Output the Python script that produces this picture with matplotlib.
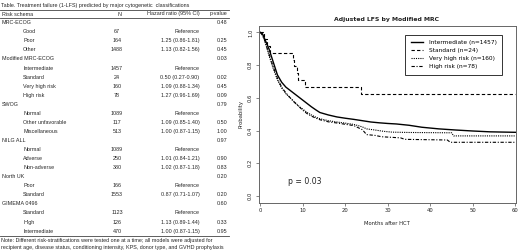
import matplotlib
matplotlib.use("Agg")
import matplotlib.pyplot as plt
from matplotlib.lines import Line2D

# ---------------- table data ----------------
table_title = "Table. Treatment failure (1-LFS) predicted by major cytogenetic  classifications"
col_headers = ["Risk schema", "N", "Hazard ratio (95% CI)", "p-value"]
row_labels = ["MRC-ECOG", "Good", "Poor", "Other",
              "Modified MRC-ECOG", "Intermediate", "Standard", "Very high risk", "High risk",
              "SWOG", "Normal", "Other unfavorable", "Miscellaneous",
              "NILG ALL", "Normal", "Adverse", "Non-adverse",
              "North UK", "Poor", "Standard",
              "GIMEMA 0496", "Standard", "High", "Intermediate"]
row_is_group = [True, False, False, False,
                True, False, False, False, False,
                True, False, False, False,
                True, False, False, False,
                True, False, False,
                True, False, False, False]
row_n = ["", "67", "164", "1488",
         "", "1457", "24", "160", "78",
         "", "1089", "117", "513",
         "", "1089", "250", "380",
         "", "166", "1553",
         "", "1123", "126", "470"]
row_hr = ["", "Reference", "1.25 (0.86-1.81)", "1.13 (0.82-1.56)",
          "", "Reference", "0.50 (0.27-0.90)", "1.09 (0.88-1.34)", "1.27 (0.96-1.69)",
          "", "Reference", "1.09 (0.85-1.40)", "1.00 (0.87-1.15)",
          "", "Reference", "1.01 (0.84-1.21)", "1.02 (0.87-1.18)",
          "", "Reference", "0.87 (0.71-1.07)",
          "", "Reference", "1.13 (0.89-1.44)", "1.00 (0.87-1.15)"]
row_p = ["0.48", "", "0.25", "0.45",
         "0.03", "", "0.02", "0.45", "0.09",
         "0.79", "", "0.50", "1.00",
         "0.97", "", "0.90", "0.83",
         "0.20", "", "0.20",
         "0.60", "", "0.33", "0.95"]
note_lines = ["Note: Different risk-stratifications were tested one at a time; all models were adjusted for",
              "recipient age, disease status, conditioning intensity, KPS, donor type, and GVHD prophylaxis"]

# ---------------- survival curve data ----------------
plot_title = "Adjusted LFS by Modified MRC"
series_labels = ["Intermediate (n=1457)", "Standard (n=24)",
                 "Very high risk (n=160)", "High risk (n=78)"]

inter_t = [0, 0.5, 1, 2, 3, 4, 5, 6, 7, 8, 9, 10, 11, 12, 13, 14, 16, 18, 20, 22,
           24, 26, 28, 30, 32, 35, 38, 42, 46, 50, 54, 60]
inter_s = [1.0, 0.99, 0.96, 0.90, 0.82, 0.74, 0.695, 0.665, 0.645, 0.625, 0.605, 0.585,
           0.565, 0.545, 0.527, 0.51, 0.495, 0.483, 0.475, 0.468,
           0.46, 0.452, 0.447, 0.443, 0.44, 0.432, 0.42, 0.41, 0.403, 0.397, 0.392, 0.389]

std_t = [0, 0.8, 1.5, 2.2, 7.7, 7.9, 8.5, 8.8, 10.4, 23.7, 60]
std_s = [1.0, 0.958, 0.917, 0.875, 0.833, 0.792, 0.75, 0.708, 0.667, 0.625, 0.625]

vhr_t = [0, 0.5, 1, 2, 3, 4, 5, 6, 7, 8, 9, 10, 11, 12, 13, 14, 16, 18, 20, 22, 23,
         24, 25, 27, 29, 31, 35, 40, 45, 45.5, 60]
vhr_s = [1.0, 0.99, 0.95, 0.86, 0.78, 0.71, 0.66, 0.625, 0.60, 0.575, 0.55, 0.53, 0.51,
         0.495, 0.482, 0.472, 0.46, 0.452, 0.445, 0.437, 0.43,
         0.422, 0.41, 0.403, 0.395, 0.39, 0.388, 0.387, 0.386, 0.367, 0.367]

hr_t = [0, 0.5, 1, 2, 3, 4, 5, 6, 7, 8, 9, 10, 11, 12, 13, 14, 16, 18, 20, 22,
        24, 25, 27, 28.5, 33, 34, 44, 44.7, 60]
hr_s = [1.0, 0.98, 0.95, 0.87, 0.79, 0.72, 0.665, 0.63, 0.60, 0.572, 0.548, 0.523, 0.503,
        0.488, 0.476, 0.466, 0.453, 0.446, 0.438, 0.43,
        0.405, 0.375, 0.37, 0.362, 0.355, 0.346, 0.342, 0.328, 0.328]

p_text = "p = 0.03"
x_ticks = [0, 10, 20, 30, 40, 50, 60]
y_ticks = [0.0, 0.2, 0.4, 0.6, 0.8, 1.0]

# ---------------- figure ----------------
W, H = 520, 250
fig = plt.figure(figsize=(W / 100, H / 100), dpi=100)
fig.patch.set_facecolor("white")

def fx(px):
    return px / W

def fy(py):
    return 1 - py / H

tfont = "Liberation Sans"
tsize = 3.9
tcol = "#262626"

fig.text(fx(1), fy(5), table_title, fontsize=tsize, family=tfont, color=tcol, va="center", ha="left")
fig.add_artist(Line2D([fx(0), fx(229)], [fy(9.8), fy(9.8)], color="#444", lw=0.6))
fig.text(fx(2), fy(14), col_headers[0], fontsize=tsize, family=tfont, color=tcol, va="center")
fig.text(fx(119), fy(14), col_headers[1], fontsize=tsize, family=tfont, color=tcol, va="center", ha="center")
fig.text(fx(200), fy(14), col_headers[2], fontsize=tsize, family=tfont, color=tcol, va="center", ha="right")
fig.text(fx(227.5), fy(14), col_headers[3], fontsize=tsize, family=tfont, color=tcol, va="center", ha="right")
fig.add_artist(Line2D([fx(0), fx(229)], [fy(17.6), fy(17.6)], color="#444", lw=0.6))

y0, pitch = 22.7, 9.06
for i, lab in enumerate(row_labels):
    y = y0 + i * pitch
    xl = 2 if row_is_group[i] else 23
    fig.text(fx(xl), fy(y), lab, fontsize=tsize, family=tfont, color=tcol, va="center")
    if row_n[i]:
        fig.text(fx(117), fy(y), row_n[i], fontsize=tsize, family=tfont, color=tcol, va="center", ha="center")
    if row_hr[i]:
        fig.text(fx(199.5), fy(y), row_hr[i], fontsize=tsize, family=tfont, color=tcol, va="center", ha="right")
    if row_p[i]:
        fig.text(fx(227.5), fy(y), row_p[i], fontsize=tsize, family=tfont, color=tcol, va="center", ha="right")
fig.add_artist(Line2D([fx(0), fx(229)], [fy(235.8), fy(235.8)], color="#444", lw=0.6))
fig.text(fx(1), fy(240.5), note_lines[0], fontsize=tsize, family=tfont, color=tcol, va="center")
fig.text(fx(1), fy(248), note_lines[1], fontsize=tsize, family=tfont, color=tcol, va="center")

# ---------------- KM plot ----------------
ax = fig.add_axes([fx(258.5), fy(202.5), (515.5 - 258.5) / W, (202.5 - 25.8) / H])
ax.plot(inter_t, inter_s, color="black", lw=1.0, ls="-", label=series_labels[0])
ax.plot(std_t, std_s, color="black", lw=0.8, ls=(0, (3, 2)), drawstyle="steps-post", label=series_labels[1])
ax.plot(vhr_t, vhr_s, color="black", lw=0.8, ls=(0, (1, 1)), label=series_labels[2])
ax.plot(hr_t, hr_s, color="black", lw=0.8, ls=(0, (3, 1.5, 1, 1.5)), label=series_labels[3])

ax.set_xlim(-0.45, 60.05)
ax.set_ylim(-0.04, 1.04)
ax.set_xticks(x_ticks)
ax.set_xticklabels([str(v) for v in x_ticks])
ax.set_yticks(y_ticks)
ax.set_yticklabels([f"{v:.1f}" for v in y_ticks], rotation=90, va="center")
ax.tick_params(axis="both", labelsize=3.8, length=2, width=0.5, color="#555", labelcolor="#222", pad=2)
for s in ax.spines.values():
    s.set_color("#666")
    s.set_linewidth(0.7)

ax.set_xlabel("Months after HCT", fontsize=3.8, color="#222", labelpad=6)
ax.set_ylabel("Probability", fontsize=3.8, color="#222", labelpad=3)
ax.set_title(plot_title, fontsize=4.4, fontweight="bold", color="#222", pad=3.5)
ax.text(0.115, 0.12, p_text, transform=ax.transAxes, fontsize=5.6, color="#222", va="center", ha="left")

leg = ax.legend(loc="upper right", bbox_to_anchor=(0.947, 0.948), borderaxespad=0,
                fontsize=4.2, frameon=True, fancybox=False, edgecolor="black",
                handlelength=2.1, handletextpad=1.0, labelspacing=0.5, borderpad=0.9)
leg.get_frame().set_linewidth(0.7)

fig.savefig("out.png", dpi=100, facecolor="white")
